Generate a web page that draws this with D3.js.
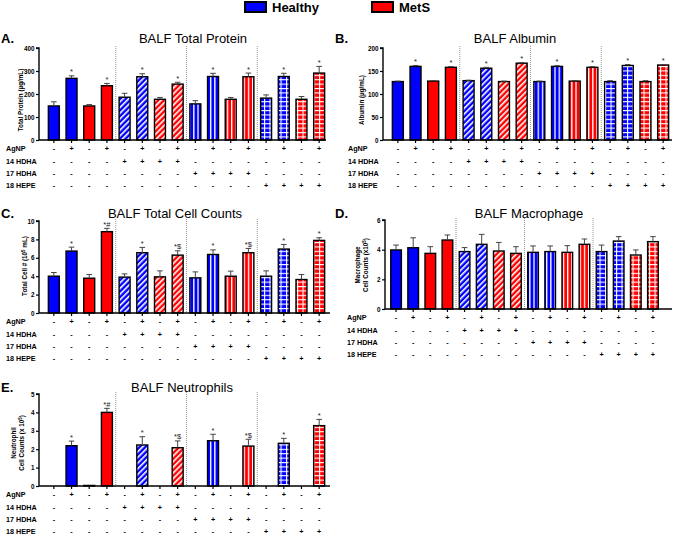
<!DOCTYPE html>
<html><head><meta charset="utf-8">
<script src="https://cdn.jsdelivr.net/npm/d3@7/dist/d3.min.js"></script>
<style>body{margin:0;background:#fff}svg{display:block}text{font-family:"Liberation Sans",Arial,sans-serif}</style>
</head><body>
<script>
// ---------- data ----------
const cohorts = ["Healthy", "MetS"];
const treatments = ["None", "14 HDHA", "17 HDHA", "18 HEPE"];
const rowLabels = ["AgNP", "14 HDHA", "17 HDHA", "18 HEPE"];
const agnpSigns = ["-", "+", "-", "+"];

const proteinMean = [148,268,148,236, 186,275,177,243, 157,276,177,275, 182,276,177,291];
const proteinErr  = [18,11,6,10, 17,13,8,8, 14,14,8,16, 14,14,12,29];
const proteinSig  = ["","*","","*", "","*","","*", "","*","","*", "","*","","*"];
const proteinTicks = [0,100,200,300,400];

const albuminMean = [127,160,128,158, 129,156,127,167, 127,160,128,158, 127,162,127,163];
const albuminErr  = [1,2,1,1.5, 1,2,1,1, 1,1.5,1,1.5, 2,2,2,1];
const albuminSig  = ["","*","","*", "","*","","*", "","*","","*", "","*","","*"];
const albuminTicks = [0,50,100,150,200];

const cellMean = [4.0,6.73,3.78,8.84, 3.9,6.55,3.93,6.29, 3.82,6.36,4.0,6.55, 4.0,6.95,3.64,7.89];
const cellErr  = [0.4,0.43,0.4,0.36, 0.35,0.58,0.65,0.47, 0.65,0.5,0.55,0.47, 0.58,0.5,0.54,0.29];
const cellSig  = ["","*","","*#", "","*","","*$", "","*","","*$", "","*","","*"];
const cellTicks = [0,2,4,6,8,10];

const macroMean = [3.98,4.13,3.75,4.65, 3.87,4.36,3.91,3.75, 3.82,3.87,3.82,4.36, 3.87,4.58,3.64,4.54];
const macroErr  = [0.33,0.67,0.45,0.34, 0.27,0.67,0.58,0.45, 0.43,0.38,0.45,0.36, 0.44,0.3,0.34,0.34];
const macroSig  = ["","","","", "","","","", "","","","", "","","",""];
const macroTicks = [0,2,4,6];

const neutroMean = [0,2.19,0.03,4.0, 0,2.23,0,2.08, 0,2.46,0,2.17, 0,2.32,0,3.28];
const neutroErr  = [0,0.25,0,0.22, 0,0.45,0,0.37, 0,0.35,0,0.37, 0,0.27,0,0.34];
const neutroSig  = ["","*","","*#", "","*","","*$", "","*","","*$", "","*","","*"];
const neutroTicks = [0,1,2,3,4,5];

// ---------- drawing ----------
const W = 675, H = 535;
const svg = d3.select("body").append("svg").attr("width", W).attr("height", H);
const BLUE = "#0000ff", RED = "#ff0000";
const defs = svg.append("defs");

function mkPattern(id, color, kind) {
  let p;
  if (kind === "diag") {
    p = defs.append("pattern").attr("id", id).attr("patternUnits", "userSpaceOnUse")
      .attr("width", 4).attr("height", 4).attr("patternTransform", "rotate(45)");
    p.append("rect").attr("width", 4).attr("height", 4).attr("fill", color);
    p.append("rect").attr("x", 0).attr("width", 1.6).attr("height", 4).attr("fill", "#fff");
  } else if (kind === "vert") {
    p = defs.append("pattern").attr("id", id).attr("patternUnits", "userSpaceOnUse")
      .attr("width", 4.2).attr("height", 4);
    p.append("rect").attr("width", 4.2).attr("height", 4).attr("fill", color);
    p.append("rect").attr("x", 0).attr("width", 1.3).attr("height", 4).attr("fill", "#fff");
  } else {
    p = defs.append("pattern").attr("id", id).attr("patternUnits", "userSpaceOnUse")
      .attr("width", 5.5).attr("height", 4.4);
    p.append("rect").attr("width", 5.5).attr("height", 4.4).attr("fill", color);
    p.append("rect").attr("x", 0).attr("y", 0).attr("width", 5.5).attr("height", 1.1).attr("fill", "#fff");
    p.append("rect").attr("x", 0).attr("y", 0).attr("width", 1.1).attr("height", 4.4).attr("fill", "#fff");
  }
}
const kinds = [null, "diag", "vert", "grid"];
[1,2,3].forEach(k => {
  mkPattern("p" + k + "b", BLUE, kinds[k]);
  mkPattern("p" + k + "r", RED, kinds[k]);
});
function fillFor(i) {
  const g = Math.floor(i / 4), isRed = (i % 4) >= 2;
  if (g === 0) return isRed ? RED : BLUE;
  return "url(#p" + g + (isRed ? "r" : "b") + ")";
}

// legend
const legend = [{name: cohorts[0], c: BLUE, x: 245}, {name: cohorts[1], c: RED, x: 372}];
legend.forEach(l => {
  svg.append("rect").attr("x", l.x).attr("y", 2).attr("width", 21).attr("height", 10)
    .attr("fill", l.c).attr("stroke", "#000").attr("stroke-width", 2);
  svg.append("text").attr("x", l.x + 27).attr("y", 12).attr("font-size", 13)
    .attr("font-weight", "bold").text(l.name);
});

function panel(cfg) {
  const g = svg.append("g");
  const idx = d3.range(16);
  const x = d3.scaleBand().domain(idx).range(cfg.barRange).paddingInner(0.38).paddingOuter(0.19);
  const y = d3.scaleLinear().domain([0, cfg.ticks[cfg.ticks.length - 1]]).range([cfg.bottom, cfg.top]);

  // letter and title
  g.append("text").attr("x", cfg.letterX).attr("y", cfg.titleY).attr("font-size", 13)
    .attr("font-weight", "bold").text(cfg.letter);
  g.append("text").attr("x", cfg.titleX).attr("y", cfg.titleY).attr("font-size", 13)
    .attr("text-anchor", "middle").text(cfg.title);

  // separators
  [4, 8, 12].forEach(k => {
    const sx = (x(k - 1) + x.bandwidth() + x(k)) / 2;
    g.append("line").attr("x1", sx).attr("x2", sx).attr("y1", cfg.top - 2).attr("y2", cfg.bottom)
      .attr("stroke", "#777").attr("stroke-width", 0.8).attr("stroke-dasharray", "1,1");
  });

  // bars
  g.selectAll(".bar").data(idx).join("rect")
    .attr("x", i => x(i)).attr("width", x.bandwidth())
    .attr("y", i => y(cfg.mean[i])).attr("height", i => y(0) - y(cfg.mean[i]))
    .attr("fill", i => fillFor(i)).attr("stroke", "#000").attr("stroke-width", 1.4);

  // error bars
  idx.forEach(i => {
    if (cfg.err[i] <= 0) return;
    const cx = x(i) + x.bandwidth() / 2;
    const y1 = y(cfg.mean[i]), y2 = y(cfg.mean[i] + cfg.err[i]);
    g.append("line").attr("x1", cx).attr("x2", cx).attr("y1", y1).attr("y2", y2)
      .attr("stroke", "#444").attr("stroke-width", 1);
    g.append("line").attr("x1", cx - 2.8).attr("x2", cx + 2.8).attr("y1", y2).attr("y2", y2)
      .attr("stroke", "#444").attr("stroke-width", 1);
    if (cfg.sig[i]) {
      g.append("text").attr("x", cx).attr("y", y2 - 1.5).attr("text-anchor", "middle")
        .attr("font-size", 7.5).attr("fill", "#222").text(cfg.sig[i]);
    }
  });

  // y axis
  const ya = d3.axisLeft(y).tickValues(cfg.ticks).tickFormat(d3.format("d")).tickSize(3).tickPadding(1.5);
  const yg = g.append("g").attr("transform", `translate(${cfg.left},0)`).call(ya);
  yg.select(".domain").attr("stroke-width", 1.4).attr("d", `M-3,${cfg.top}H0V${cfg.bottom}`);
  yg.selectAll(".tick line").attr("stroke-width", 1.2);
  yg.selectAll("text").attr("font-size", 6.3).attr("font-weight", "bold")
    .attr("font-family", '"Liberation Sans",Arial,sans-serif');

  // x axis
  const xa = d3.axisBottom(x).tickSize(3).tickFormat("");
  const xg = g.append("g").attr("transform", `translate(0,${cfg.bottom})`).call(xa);
  xg.select(".domain").attr("stroke-width", 1.4).attr("d", `M${cfg.left},0H${cfg.right}`);
  xg.selectAll(".tick line").attr("stroke-width", 1.2);

  // y label
  const ly = g.append("text").attr("transform", `translate(${cfg.ylabX},${cfg.ylabY}) rotate(-90)`)
    .attr("text-anchor", "middle").attr("font-size", 6.3).attr("font-weight", "bold");
  cfg.ylab.forEach((t, k) => {
    const ts = ly.append("tspan").attr("x", 0).attr("dy", k === 0 ? -(cfg.ylab.length - 1) * 4 : 8);
    if (Array.isArray(t)) {
      ts.text(t[0]);
      ly.append("tspan").attr("font-size", 4.5).attr("dy", -2.5).text(t[1]);
      ly.append("tspan").attr("dy", 2.5).text(t[2]);
    } else ts.text(t);
  });

  // treatment rows
  const offs = [8, 21, 33, 45];
  rowLabels.forEach((lab, r) => {
    const ry = cfg.bottom + offs[r] + 2.5;
    g.append("text").attr("x", cfg.labelX).attr("y", ry).attr("font-size", 7.2)
      .attr("font-weight", "bold").text(lab);
    idx.forEach(i => {
      const grp = Math.floor(i / 4);
      const s = r === 0 ? agnpSigns[i % 4] : (grp === r ? "+" : "-");
      g.append("text").attr("x", x(i) + x.bandwidth() / 2).attr("y", ry)
        .attr("text-anchor", "middle").attr("font-size", 7.2).attr("font-weight", "bold").text(s);
    });
  });
}

panel({letter: "A.", letterX: 1, title: "BALF Total Protein", titleX: 193, titleY: 43,
  left: 39, right: 326, top: 48, bottom: 140, barRange: [45, 328], labelX: 6,
  ticks: proteinTicks, mean: proteinMean, err: proteinErr, sig: proteinSig,
  ylab: ["Total Protein (µg/mL)"], ylabX: 23, ylabY: 100});

panel({letter: "B.", letterX: 335, title: "BALF Albumin", titleX: 515, titleY: 43,
  left: 383, right: 672, top: 48, bottom: 140, barRange: [389, 672], labelX: 348,
  ticks: albuminTicks, mean: albuminMean, err: albuminErr, sig: albuminSig,
  ylab: ["Albumin (µg/mL)"], ylabX: 364, ylabY: 100});

panel({letter: "C.", letterX: 1, title: "BALF Total Cell Counts", titleX: 175, titleY: 218,
  left: 39, right: 330, top: 221, bottom: 313, barRange: [45, 328], labelX: 6,
  ticks: cellTicks, mean: cellMean, err: cellErr, sig: cellSig,
  ylab: [["Total Cell # (10", "5", " mL)"]], ylabX: 27, ylabY: 266});

panel({letter: "D.", letterX: 335, title: "BALF Macrophage", titleX: 529, titleY: 218,
  left: 385, right: 672, top: 220, bottom: 309, barRange: [387.5, 661.5], labelX: 347,
  ticks: macroTicks, mean: macroMean, err: macroErr, sig: macroSig,
  ylab: ["Macrophage", ["Cell Counts (x10", "5", ")"]], ylabX: 364, ylabY: 265});

panel({letter: "E.", letterX: 1, title: "BALF Neutrophils", titleX: 182, titleY: 392,
  left: 39, right: 330, top: 394, bottom: 486, barRange: [45, 328], labelX: 6,
  ticks: neutroTicks, mean: neutroMean, err: neutroErr, sig: neutroSig,
  ylab: ["Neutrophil", ["Cell Counts (x 10", "5", ")"]], ylabX: 20, ylabY: 443});
</script>
</body></html>
